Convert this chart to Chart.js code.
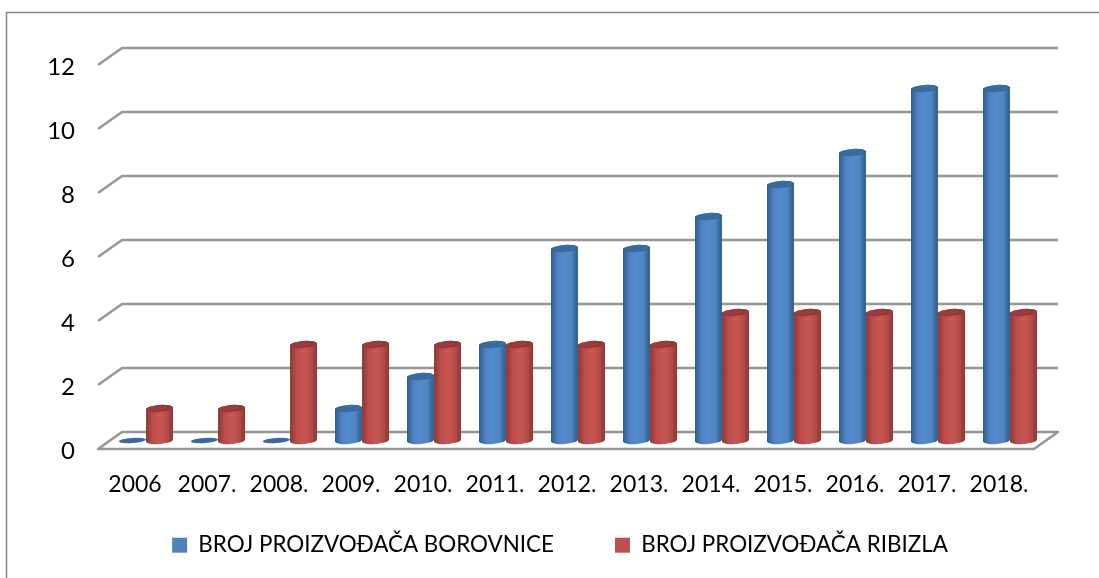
<!DOCTYPE html>
<html>
<head>
<meta charset="utf-8">
<title>Broj proizvođača</title>
<script src="https://cdn.jsdelivr.net/npm/chart.js@4"></script>
<style>
  html, body { margin: 0; padding: 0; background: #fff; }
  canvas { display: block; }
</style>
</head>
<body>
<canvas id="myBarChart" width="1099" height="578"></canvas>
<script>
const categories = ['2006', '2007.', '2008.', '2009.', '2010.', '2011.', '2012.', '2013.', '2014.', '2015.', '2016.', '2017.', '2018.'];
const borovnice = [0, 0, 0, 1, 2, 3, 6, 6, 7, 8, 9, 11, 11];
const ribizla = [1, 1, 3, 3, 3, 3, 3, 3, 4, 4, 4, 4, 4];

// offset of the back wall from the front plane of the fake 3D box
const depthX = 24;
const depthY = -17;

// shade per series: edge, middle, lid
const shades = {
  '#4f81bd': ['#2f5c8e', '#4f83c2', '#558bcc', '#3a6b9f'],
  '#c0504d': ['#8a3533', '#bb4e4b', '#c85653', '#963b39']
};

// bars are drawn as cylinders halfway into the box, still from the scale pixels
Chart.BarElement.prototype.draw = function (ctx) {
  const shade = shades[this.options.backgroundColor];
  const r = this.width / 2;
  const cx = this.x + depthX / 2;
  const top = this.y + depthY / 2;
  const bottom = this.base + depthY / 2;
  const ry = 3.6;
  const tilt = -0.07;

  ctx.save();
  if (bottom - top > 0.5) {
    const grad = ctx.createLinearGradient(cx - r, 0, cx + r, 0);
    grad.addColorStop(0, shade[0]);
    grad.addColorStop(0.25, shade[1]);
    grad.addColorStop(0.5, shade[2]);
    grad.addColorStop(0.75, shade[1]);
    grad.addColorStop(1, shade[0]);
    ctx.fillStyle = grad;
    ctx.beginPath();
    ctx.ellipse(cx, bottom, r, ry, tilt, Math.PI, 0, true);
    ctx.ellipse(cx, top, r, ry, tilt, 0, Math.PI, true);
    ctx.closePath();
    ctx.fill();
  }
  ctx.fillStyle = shade[3];
  ctx.beginPath();
  ctx.ellipse(cx, top, r, bottom - top > 0.5 ? ry : 2.6, tilt, 0, Math.PI * 2);
  ctx.fill();
  ctx.restore();
};

const boxPlugin = {
  id: 'box',
  // the legend sits higher and further right than the default bottom slot
  afterLayout(chart) {
    chart.legend.top = 473;
    chart.legend.left += 43;
    chart.legend.right += 43;
  },
  beforeDraw(chart) {
    const ctx = chart.ctx;
    ctx.save();
    ctx.fillStyle = '#fff';
    ctx.fillRect(0, 0, chart.width, chart.height);
    // outer frame, cut off at the right and bottom of the picture
    ctx.strokeStyle = '#868686';
    ctx.lineWidth = 1.5;
    ctx.beginPath();
    ctx.moveTo(6.5, chart.height);
    ctx.lineTo(6.5, 12.5);
    ctx.lineTo(chart.width, 12.5);
    ctx.stroke();
    ctx.restore();
  },
  beforeDatasetsDraw(chart) {
    const ctx = chart.ctx;
    const area = chart.chartArea;
    const yScale = chart.scales.y;
    ctx.save();
    ctx.strokeStyle = '#969696';
    ctx.lineWidth = 2.5;
    ctx.lineJoin = 'round';
    yScale.ticks.forEach(function (tick) {
      const y = yScale.getPixelForValue(tick.value);
      ctx.beginPath();
      ctx.moveTo(area.left, y);
      ctx.lineTo(area.left + depthX, y + depthY);
      ctx.lineTo(area.right + depthX, y + depthY);
      if (tick.value === 0) {
        ctx.lineTo(area.right, y);
        ctx.closePath();
      }
      ctx.stroke();
    });
    ctx.restore();
  }
};

const barConfig = {
  type: 'bar',
  data: {
    labels: categories,
    datasets: [
      {
        label: 'BROJ PROIZVOĐAČA BOROVNICE',
        data: borovnice,
        backgroundColor: '#4f81bd',
        clip: false
      },
      {
        label: 'BROJ PROIZVOĐAČA RIBIZLA',
        data: ribizla,
        backgroundColor: '#c0504d',
        clip: false
      }
    ]
  },
  options: {
    responsive: false,
    animation: false,
    layout: {
      padding: { left: 0, right: 65, top: 65, bottom: 0 }
    },
    datasets: {
      bar: { barPercentage: 1, categoryPercentage: 0.75 }
    },
    scales: {
      x: {
        grid: { display: false },
        border: { display: false },
        ticks: {
          color: '#000',
          font: { family: 'Lato', size: 23 },
          padding: 14,
          labelOffset: 1,
          maxRotation: 0,
          autoSkip: false
        },
        afterFit(scale) { scale.height = 50; }
      },
      y: {
        min: 0,
        max: 12,
        grid: { display: false, tickLength: 0 },
        border: { display: false },
        ticks: {
          stepSize: 2,
          color: '#000',
          font: { family: 'Lato', size: 24 },
          padding: 23,
          labelOffset: 2
        },
        afterFit(scale) { scale.width = 98; }
      }
    },
    plugins: {
      title: { display: false },
      tooltip: { enabled: false },
      legend: {
        position: 'bottom',
        maxHeight: 79,
        labels: {
          boxWidth: 15,
          boxHeight: 15,
          padding: 61,
          color: '#000',
          font: { family: 'Lato', size: 22.4 }
        }
      }
    }
  },
  plugins: [boxPlugin]
};

const myBarChart = new Chart(
  document.getElementById('myBarChart'),
  barConfig
);
</script>
</body>
</html>
